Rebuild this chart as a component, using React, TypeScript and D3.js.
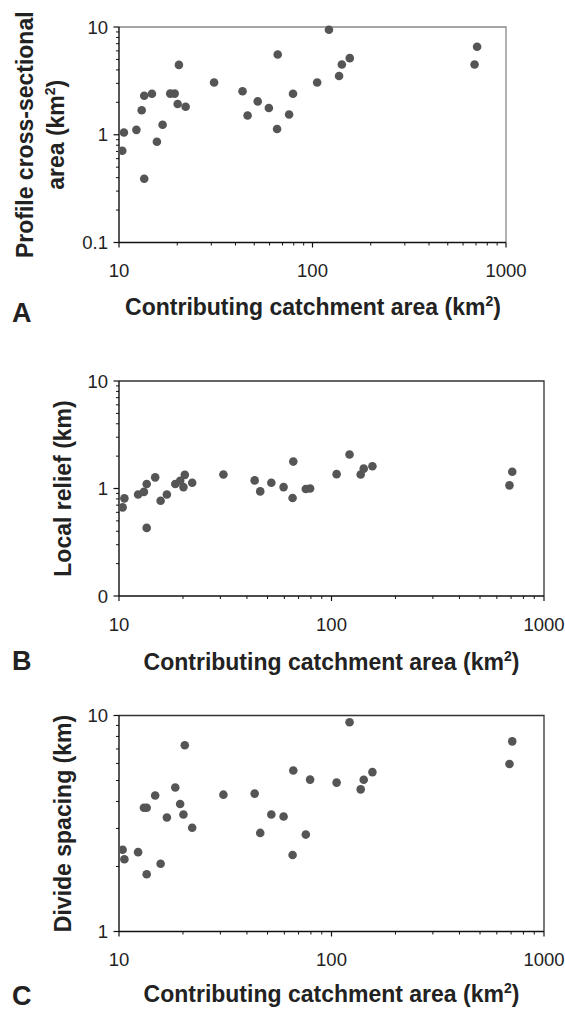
import React from "react";
import * as d3 from "d3";

// Contributing catchment area (km^2), shared by all three panels
const catchmentArea = [10.4, 10.6, 12.3, 13.1, 13.5, 13.5, 14.8, 15.7, 16.8, 18.4, 19.4, 20.1, 20.4, 22.1, 31.0, 43.5, 46.2, 52.1, 59.5, 65.6, 66.1, 75.7, 79.3, 105.7, 121.6, 137.2, 141.8, 155.8, 688, 709];
// Panel A: profile cross-sectional area (km^2)
const crossSection = [0.71, 1.05, 1.11, 1.69, 2.30, 0.39, 2.40, 0.86, 1.24, 2.41, 2.41, 1.93, 4.45, 1.82, 3.05, 2.53, 1.51, 2.04, 1.77, 1.13, 5.56, 1.54, 2.40, 3.05, 9.44, 3.51, 4.49, 5.14, 4.49, 6.55];
// Panel B: local relief (km)
const localRelief = [0.667, 0.81, 0.88, 0.93, 1.10, 0.43, 1.27, 0.77, 0.88, 1.10, 1.18, 1.03, 1.34, 1.13, 1.35, 1.19, 0.94, 1.13, 1.03, 0.815, 1.78, 0.99, 1.0, 1.36, 2.07, 1.35, 1.53, 1.61, 1.07, 1.43];
// Panel C: divide spacing (km)
const divideSpacing = [2.39, 2.16, 2.33, 3.74, 3.74, 1.84, 4.26, 2.06, 3.37, 4.64, 3.89, 3.48, 7.28, 3.02, 4.30, 4.35, 2.86, 3.48, 3.41, 2.26, 5.56, 2.81, 5.05, 4.89, 9.31, 4.55, 5.04, 5.47, 5.96, 7.59];

const xTickValues = [10, 100, 1000];
const xTickLabels = ["10", "100", "1000"];
const yTicksA = [0.1, 1, 10];
const yLabelsA = ["0.1", "1", "10"];
const yTicksB = [0.1, 1, 10];
const yLabelsB = ["0", "1", "10"];
const yTicksC = [1, 10];
const yLabelsC = ["1", "10"];

const FONT = "Liberation Sans, Arial, Helvetica, sans-serif";
const TXT = "#222";
const DOT = "#555";

function minorTicks(lo: number, hi: number) {
  const out: number[] = [];
  for (let d = lo; d < hi; d *= 10) {
    for (let k = 2; k <= 9; k++) out.push(d * k);
  }
  return out;
}

type PanelProps = {
  left: number; right: number; top: number; bottom: number;
  yDomain: [number, number];
  yTicks: number[]; yLabels: string[];
  values: number[];
  frameColor: string;
  letter: string; letterY: number;
  titleX: number; titleY: number;
  yTitleLines: { text: string; sup?: boolean; x: number }[];
};

function Panel(p: PanelProps) {
  const x = d3.scaleLog().domain([10, 1000]).range([p.left, p.right]);
  const y = d3.scaleLog().domain(p.yDomain).range([p.bottom, p.top]);
  const xMinor = minorTicks(10, 1000);
  const yMinor = minorTicks(p.yDomain[0], p.yDomain[1]);
  const cy = (p.top + p.bottom) / 2;
  return (
    <g>
      {/* frame top/right */}
      <path d={`M${p.left},${p.top}H${p.right}V${p.bottom}`} fill="none" stroke={p.frameColor} strokeWidth={1.3} />
      {/* axes */}
      <line x1={p.left} x2={p.right} y1={p.bottom} y2={p.bottom} stroke="#111" strokeWidth={1.4} />
      <line x1={p.left} x2={p.left} y1={p.top} y2={p.bottom} stroke="#111" strokeWidth={1.4} />
      {xMinor.map((v, i) => (
        <line key={"xm" + i} x1={x(v)} x2={x(v)} y1={p.bottom} y2={p.bottom + 3} stroke="#111" strokeWidth={1} />
      ))}
      {xTickValues.map((v, i) => (
        <g key={"xt" + i}>
          <line x1={x(v)} x2={x(v)} y1={p.bottom} y2={p.bottom + 5} stroke="#111" strokeWidth={1.2} />
          <text x={x(v)} y={p.bottom + 34.5} textAnchor="middle" fontFamily={FONT} fontSize={18.5} fill={TXT}>{xTickLabels[i]}</text>
        </g>
      ))}
      {yMinor.map((v, i) => (
        <line key={"ym" + i} x1={p.left - 3} x2={p.left} y1={y(v)} y2={y(v)} stroke="#111" strokeWidth={1} />
      ))}
      {p.yTicks.map((v, i) => (
        <g key={"yt" + i}>
          <line x1={p.left - 5.5} x2={p.left} y1={y(v)} y2={y(v)} stroke="#111" strokeWidth={1.2} />
          <text x={108} y={y(v) + 6.6} textAnchor="end" fontFamily={FONT} fontSize={18.5} fill={TXT}>{p.yLabels[i]}</text>
        </g>
      ))}
      {p.values.map((v, i) => (
        <circle key={"pt" + i} cx={x(catchmentArea[i])} cy={y(v)} r={4.3} fill={DOT} />
      ))}
      {/* x title */}
      <text x={p.titleX} y={p.titleY} textAnchor="middle" fontFamily={FONT} fontSize={23} fontWeight="bold" fill={TXT}>
        Contributing catchment area (km<tspan fontSize={14} dy={-9}>2</tspan><tspan dy={9}>)</tspan>
      </text>
      {/* y title */}
      {p.yTitleLines.map((l, i) => (
        <text key={"yl" + i} transform={`translate(${l.x},${cy}) rotate(-90)`} textAnchor="middle" fontFamily={FONT} fontSize={23} fontWeight="bold" fill={TXT}>
          {l.sup ? (
            <>
              {l.text}<tspan fontSize={14} dy={-9}>2</tspan><tspan dy={9}>)</tspan>
            </>
          ) : l.text}
        </text>
      ))}
      <text x={12} y={p.letterY} fontFamily={FONT} fontSize={27} fontWeight="bold" fill={TXT}>{p.letter}</text>
    </g>
  );
}

export default function App() {
  return (
    <svg width={565} height={1014} style={{ position: "absolute", left: 0, top: 0, background: "#fff" }}>
      <rect width={565} height={1014} fill="#fff" />
      <Panel left={119} right={506} top={27} bottom={242.5} yDomain={[0.1, 10]} yTicks={yTicksA} yLabels={yLabelsA}
        values={crossSection} frameColor="#888" letter="A" letterY={322} titleX={313} titleY={315}
        yTitleLines={[{ text: "Profile cross-sectional", x: 33 }, { text: "area (km", sup: true, x: 64 }]} />
      <Panel left={119} right={544} top={381} bottom={596} yDomain={[0.1, 10]} yTicks={yTicksB} yLabels={yLabelsB}
        values={localRelief} frameColor="#333" letter="B" letterY={670} titleX={331.5} titleY={670}
        yTitleLines={[{ text: "Local relief (km)", x: 71 }]} />
      <Panel left={119} right={544} top={715.5} bottom={931.5} yDomain={[1, 10]} yTicks={yTicksC} yLabels={yLabelsC}
        values={divideSpacing} frameColor="#333" letter="C" letterY={1005} titleX={331.5} titleY={1002}
        yTitleLines={[{ text: "Divide spacing (km)", x: 71 }]} />
    </svg>
  );
}
